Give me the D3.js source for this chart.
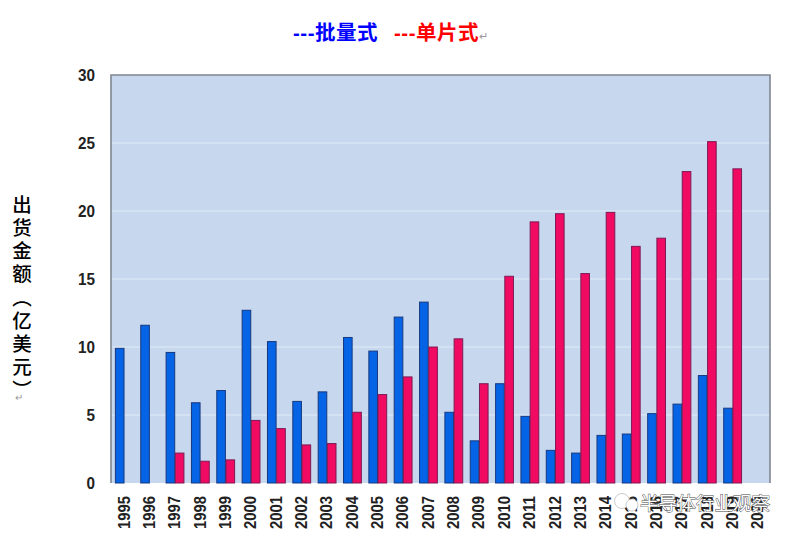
<!DOCTYPE html>
<html>
<head>
<meta charset="utf-8">
<script src="https://cdn.jsdelivr.net/npm/d3@7"></script>
<style>
html, body { margin: 0; padding: 0; background: #fff; }
svg { display: block; }
</style>
</head>
<body>
<svg id="chart"></svg>
<script>
const years = ["1995", "1996", "1997", "1998", "1999", "2000", "2001", "2002", "2003", "2004", "2005", "2006", "2007",
    "2008", "2009", "2010", "2011", "2012", "2013", "2014", "2015", "2016", "2017", "2018", "2019", "2020"];
const batchValues = [9.9, 11.6, 9.6, 5.9, 6.8, 12.7, 10.4, 6.0, 6.7, 10.7, 9.7, 12.2, 13.3,
    5.2, 3.1, 7.3, 4.9, 2.4, 2.2, 3.5, 3.6, 5.1, 5.8, 7.9, 5.5, null];
const singleValues = [null, null, 2.2, 1.6, 1.7, 4.6, 4.0, 2.8, 2.9, 5.2, 6.5, 7.8, 10.0,
    10.6, 7.3, 15.2, 19.2, 19.8, 15.4, 19.9, 17.4, 18.0, 22.9, 25.1, 23.1, null];
const yTicks = [0, 5, 10, 15, 20, 25, 30];

const width = 796;
const height = 538;
const margin = { top: 75, right: 26, bottom: 55, left: 111 };
const latin = "'Liberation Sans', Arial, sans-serif";
const cjk = "'Liberation Sans', 'Noto Sans CJK SC', sans-serif";

const svg = d3.select("#chart").attr("width", width).attr("height", height);

const x = d3.scaleBand().domain(years).range([margin.left, width - margin.right]);
const y = d3.scaleLinear().domain([0, 30]).range([height - margin.bottom, margin.top]);
const barW = x.bandwidth() * 0.34;

// plot background
svg.append("rect")
    .attr("x", margin.left)
    .attr("y", margin.top)
    .attr("width", width - margin.left - margin.right)
    .attr("height", height - margin.top - margin.bottom)
    .attr("fill", "#c6d7ee");

// gridlines
svg.append("g")
    .selectAll("line")
    .data(yTicks.slice(1, -1))
    .join("line")
    .attr("x1", margin.left)
    .attr("x2", width - margin.right)
    .attr("y1", d => y(d))
    .attr("y2", d => y(d))
    .attr("stroke", "#e2ebf7")
    .attr("stroke-width", 1.2);

function drawBars(values, offset, fill, stroke) {
    svg.append("g")
        .selectAll("rect")
        .data(years.map((year, i) => ({ year, value: values[i] })).filter(d => d.value !== null))
        .join("rect")
        .attr("x", d => x(d.year) + offset)
        .attr("y", d => y(d.value))
        .attr("width", barW)
        .attr("height", d => y(0) - y(d.value))
        .attr("fill", fill)
        .attr("stroke", stroke)
        .attr("stroke-width", 1);
}

drawBars(batchValues, 4.4, "#0563e6", "#17397f");
drawBars(singleValues, 4.4 + barW + 0.6, "#f00a62", "#7d1a55");

// frame: top and sides are the dark grey of the source
svg.append("path")
    .attr("d", d3.line()([[margin.left, y(0)], [margin.left, margin.top], [width - margin.right, margin.top], [width - margin.right, y(0)]]))
    .attr("fill", "none")
    .attr("stroke", "#7f8790")
    .attr("stroke-width", 1.6);

const yAxis = svg.append("g")
    .attr("transform", `translate(${margin.left},0)`)
    .call(d3.axisLeft(y).tickValues(yTicks).tickSize(0).tickPadding(16));
yAxis.select(".domain").remove();
yAxis.selectAll("text")
    .attr("font-family", latin)
    .attr("font-size", 17)
    .attr("font-weight", "bold")
    .attr("fill", "#222")
    .attr("textLength", d => d < 10 ? 8.5 : 17)
    .attr("lengthAdjust", "spacingAndGlyphs");

const xAxis = svg.append("g")
    .attr("transform", `translate(0,${y(0)})`)
    .call(d3.axisBottom(x).tickSize(0));
xAxis.select(".domain").remove();
xAxis.selectAll("text")
    .attr("font-family", latin)
    .attr("font-size", 17)
    .attr("font-weight", "bold")
    .attr("fill", "#222")
    .attr("text-anchor", "end")
    .attr("textLength", 33)
    .attr("lengthAdjust", "spacingAndGlyphs")
    .attr("transform", "translate(0,13) rotate(-90)")
    .attr("dy", "0.35em")
    .attr("y", 0);

// title
const title = svg.append("text")
    .attr("x", 293)
    .attr("y", 40)
    .attr("font-family", cjk)
    .attr("font-size", 20.5)
    .attr("font-weight", "bold")
    .style("letter-spacing", "0.5px");
title.append("tspan").attr("fill", "#0000ff").text("---批量式");
title.append("tspan").attr("fill", "#ff0000").attr("x", 394).text("---单片式");
svg.append("text")
    .attr("x", 479)
    .attr("y", 40)
    .attr("font-family", latin)
    .attr("font-size", 11)
    .attr("fill", "#999")
    .text("↵");

// vertical axis title
svg.append("text")
    .attr("x", 22)
    .attr("y", 195)
    .attr("font-family", "'Noto Sans CJK SC', sans-serif")
    .attr("font-size", 19.5)
    .attr("font-weight", 500)
    .attr("fill", "#000")
    .style("writing-mode", "vertical-rl")
    .style("letter-spacing", "3.6px")
    .text("出货金额（亿美元）");
svg.append("text")
    .attr("x", 15)
    .attr("y", 401)
    .attr("font-family", latin)
    .attr("font-size", 10)
    .attr("fill", "#999")
    .text("↵");

// watermark over the last tick labels
const mark = svg.append("g").attr("transform", "translate(622,504)");
mark.append("circle").attr("r", 7.5).attr("cx", 0).attr("cy", -3).attr("fill", "#fff").attr("stroke", "#aaa").attr("stroke-width", 0.6);
mark.append("circle").attr("r", 6).attr("cx", 10).attr("cy", 1).attr("fill", "#fff").attr("stroke", "#aaa").attr("stroke-width", 0.6);
mark.append("text")
    .attr("x", 18)
    .attr("y", 6)
    .attr("font-family", "'Noto Sans CJK SC', sans-serif")
    .attr("font-size", 18.6)
    .attr("fill", "#fff")
    .attr("stroke", "#444")
    .attr("stroke-width", 0.9)
    .attr("paint-order", "stroke")
    .text("半导体行业观察");
</script>
</body>
</html>
